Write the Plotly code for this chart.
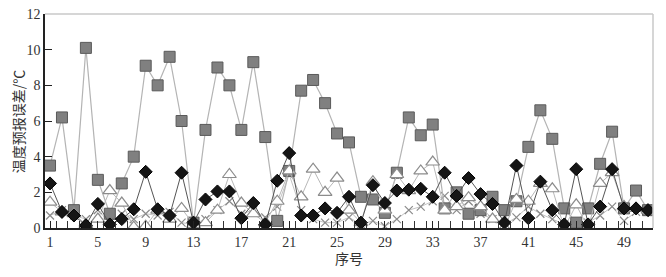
import plotly.graph_objects as go

idx = list(range(1, 52))

sq = [3.5, 6.2, 1.0, 10.1, 2.7, 0.8, 2.5, 4.0, 9.1, 8.0,
      9.6, 6.0, 0.3, 5.5, 9.0, 8.0, 5.5, 9.3, 5.1, 0.4,
      3.2, 7.7, 8.3, 7.0, 5.3, 4.8, 1.75, 1.6, 0.85, 3.1,
      6.2, 5.2, 5.8, 1.1, 2.0, 0.8, 1.0, 1.75, 1.0, 1.5,
      4.55, 6.6, 5.0, 1.1, 0.3, 1.1, 3.6, 5.4, 1.1, 2.1, 1.0]

dia = [2.5, 0.9, 0.7, 0.15, 1.35, 0.2, 0.5, 1.05, 3.15, 1.05,
       0.7, 3.1, 0.3, 1.6, 2.05, 2.05, 0.55, 1.4, 0.2, 2.65,
       4.2, 0.7, 0.7, 1.1, 0.85, 1.75, 0.3, 2.4, 1.4, 2.1,
       2.15, 2.2, 1.75, 3.1, 1.8, 2.8, 1.9, 1.35, 0.3, 3.5,
       0.55, 2.6, 1.0, 0.2, 3.3, 0.2, 1.2, 3.3, 1.1, 1.1, 1.0]

tri = [1.45, 0.9, 0.8, 0.2, 0.5, 2.1, 1.4, 0.05, 0.1, 1.0,
       0.5, 1.1, 0.2, 0.3, 1.0, 3.0, 1.4, 0.8, 0.3, 1.5,
       3.2, 1.75, 3.3, 2.0, 2.8, 1.0, 0.3, 2.6, 1.0, 3.0,
       2.1, 3.2, 3.7, 1.0, 1.2, 1.7, 1.2, 0.5, 0.0, 1.6,
       1.5, 2.5, 2.2, 0.0, 1.3, 0.0, 2.5, 3.1, 1.2, 1.1, 1.0]

crs = [0.7, 1.0, 0.7, 0.5, 1.0, 0.3, 0.8, 0.5, 0.8, 0.7,
       0.9, 0.3, 0.2, 0.5, 1.0, 1.5, 0.8, 1.0, 0.6, 1.2,
       3.0, 1.0, 0.5, 0.3, 0.3, 0.6, 0.2, 0.4, 0.1, 0.5,
       1.0, 1.2, 1.5, 1.8, 1.0, 1.5, 0.8, 0.5, 0.2, 0.6,
       1.2, 0.8, 0.5, 0.2, 0.1, 0.3, 0.7, 1.2, 0.4, 0.9, 1.0]

x_ticks = [1, 5, 9, 13, 17, 21, 25, 29, 33, 37, 41, 45, 49]
y_ticks = [0, 2, 4, 6, 8, 10, 12]

fig = go.Figure()
fig.add_trace(go.Scatter(x=idx, y=crs, mode="lines+markers",
                         line=dict(color="#c4c4c4", width=1),
                         marker=dict(symbol="x-thin", size=8,
                                     line=dict(color="#8a8a8a", width=1.2))))
fig.add_trace(go.Scatter(x=idx, y=sq, mode="lines+markers",
                         line=dict(color="#b4b4b4", width=1.2),
                         marker=dict(symbol="square", size=11, color="#808080",
                                     line=dict(color="#5a5a5a", width=1))))
fig.add_trace(go.Scatter(x=idx, y=tri, mode="lines+markers",
                         line=dict(color="#b8b8b8", width=1),
                         marker=dict(symbol="triangle-up", size=12, color="white",
                                     line=dict(color="#8c8c8c", width=1.2))))
fig.add_trace(go.Scatter(x=idx, y=dia, mode="lines+markers",
                         line=dict(color="#555555", width=1),
                         marker=dict(symbol="diamond", size=10, color="#151515",
                                     line=dict(color="#000000", width=1))))

fig.add_shape(type="line", xref="paper", yref="paper", x0=0, x1=1, y0=1, y1=1,
              line=dict(color="#c8c8c8", width=1.5))
fig.add_shape(type="line", xref="paper", yref="paper", x0=1, x1=1, y0=0, y1=1,
              line=dict(color="#c8c8c8", width=1.5))

fig.add_annotation(text="序号", xref="paper", yref="paper", x=0.5, y=-0.14,
                   xanchor="center", yanchor="middle", showarrow=False,
                   font=dict(family="Noto Sans CJK SC", size=14, color="#333333"))
fig.add_annotation(text="温度预报误差/℃", xref="paper", yref="paper", x=-0.044, y=0.5,
                   xanchor="center", yanchor="middle", showarrow=False, textangle=-90,
                   font=dict(family="Noto Sans CJK SC", size=14, color="#333333"))

fig.update_layout(
    width=658, height=269,
    margin=dict(l=37, r=13, t=6, b=49, autoexpand=False),
    paper_bgcolor="white", plot_bgcolor="white",
    showlegend=False,
    font=dict(family="Liberation Serif", size=14, color="#333333"),
    xaxis=dict(range=[0.58, 51.42], tickvals=x_ticks, ticktext=[str(v) for v in x_ticks],
               automargin=False, ticklabeloverflow="allow",
               showgrid=False, zeroline=False, showline=True, linecolor="#222222", linewidth=1.5,
               ticks="inside", ticklen=7, tickcolor="#222222",
               minor=dict(dtick=1, tick0=0.5, ticks="inside", ticklen=7, tickcolor="#333333")),
    yaxis=dict(range=[0, 12], tickvals=y_ticks, showgrid=False, zeroline=False,
               automargin=False, ticklabeloverflow="allow",
               showline=True, linecolor="#222222", linewidth=1.5,
               ticks="inside", ticklen=7, tickcolor="#222222"),
)

fig.write_html("out.html")
